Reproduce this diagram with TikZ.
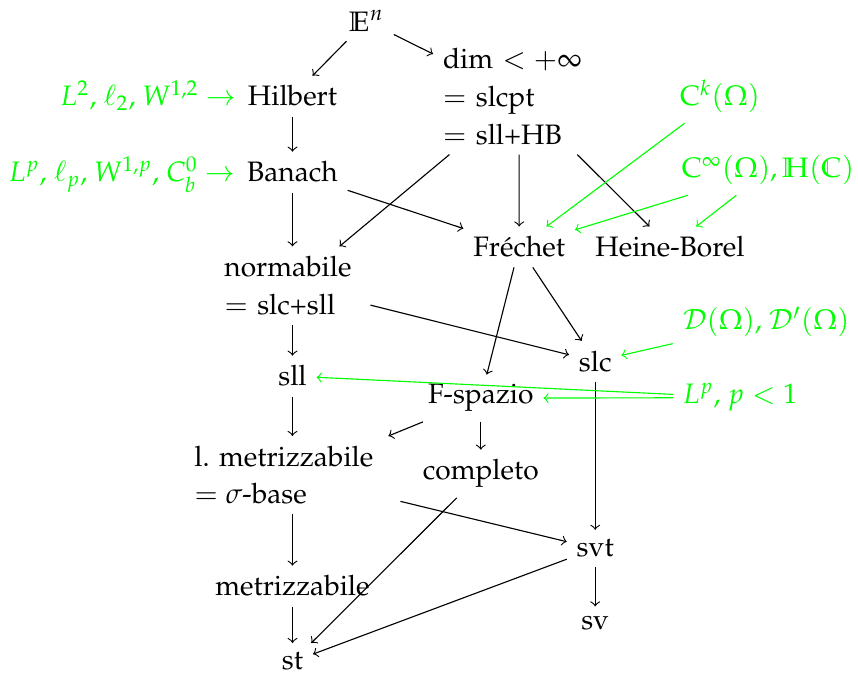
\documentclass[tikz,border=0pt]{standalone}
\usepackage[T1]{fontenc}
\usepackage{mathpazo}
\usepackage{xcolor}
\usepackage{tikz}
\usetikzlibrary{positioning}

\begin{document}
\begin{tikzpicture}[
  every node/.style={font=\fontsize{10}{13.4}\selectfont},
  multi/.style={align=left, anchor=north},
  sp/.style={anchor=base},
  ex/.style={text=green, anchor=base},
  side/.style={text=green, inner sep=0pt},
  arr/.style={->},
  garr/.style={->, green},
]
\useasboundingbox (0,0) rectangle (10.725,-8.4625);

% Row 1: top
\node[sp] (en) at (4.58,-0.39) {$\mathbb{E}^n$};
\node[multi, text width=1.9cm] (dim) at (6.4875,-0.48) {dim $<+\infty$\\$=$ slcpt\\$=$ sll+HB};

% Row 2: Hilbert, Banach + examples
\node[sp] (hil) at (3.656,-1.325) {Hilbert};
\node[sp] (ban) at (3.656,-2.275) {Banach};
\node[side, base left=0.6pt of hil] (lhil) {$L^2$, $\ell_2$, $W^{1,2}$ $\to$};
\node[side, base left=0.6pt of ban] (lban) {$L^p$, $\ell_p$, $W^{1,p}$, $C^0_b$ $\to$};
\node[ex] (ck) at (9.0,-1.325) {$\mathrm{C}^k(\Omega)$};
\node[ex] (cinf) at (9.6,-2.225) {$\mathrm{C}^\infty(\Omega), \mathbb{H}(\mathbb{C})$};

% Row 3: Frechet, Heine-Borel, normabile
\node[sp] (fre) at (6.49,-3.21) {Fr\'echet};
\node[sp] (hb) at (8.375,-3.21) {Heine-Borel};
\node[multi, text width=1.7cm] (norm) at (3.656,-3.08) {normabile\\$=$ slc+sll};

% Row 4: slc, sll, F-spazio
\node[sp] (slc) at (7.44,-4.64) {slc};
\node[sp] (sll) at (3.656,-4.825) {sll};
\node[sp] (fsp) at (6.01,-5.05) {F-spazio};
\node[ex] (dom) at (9.575,-4.125) {$\mathcal{D}(\Omega)$, $\mathcal{D}'(\Omega)$};
\node[ex] (lpl) at (9.25,-5.05) {$L^p$, $p<1$};

% Row 5: metrizzabili
\node[multi, text width=2.45cm] (metl) at (3.656,-5.45) {l.\ metrizzabile\\$=\sigma$-base};
\node[sp] (compl) at (6.01,-6.0) {completo};
\node[sp] (svt) at (7.44,-6.96) {svt};
\node[sp] (metr) at (3.656,-7.45) {metrizzabile};

% Row 6: bottom
\node[sp] (st) at (3.656,-8.375) {st};
\node[sp] (sv) at (7.44,-7.875) {sv};

% Arrows
\draw[arr] (en) -- (hil);
\draw[arr] (en) -- (dim);
\draw[arr] (hil) -- (ban);
\draw[arr] (ban) -- (norm);
\draw[arr] (ban) -- (fre);
\draw[arr] (dim) -- (norm);
\draw[arr] (dim) -- (fre);
\draw[arr] (dim) -- (hb);
\draw[arr] (norm) -- (sll);
\draw[arr] (norm) -- (slc);
\draw[arr] (fre) -- (fsp);
\draw[arr] (fre) -- (slc);
\draw[arr] (sll) -- (metl);
\draw[arr] (fsp) -- (metl);
\draw[arr] (fsp) -- (compl);
\draw[arr] (slc) -- (svt);
\draw[arr] (metl) -- (svt);
\draw[arr] (metl) -- (metr);
\draw[arr] (compl) -- (st);
\draw[arr] (svt) -- (st);
\draw[arr] (metr) -- (st);
\draw[arr] (svt) -- (sv);

% Examples
\draw[garr] (ck) -- (fre);
\draw[garr] (cinf) -- (fre);
\draw[garr] (cinf) -- (hb);
\draw[garr] (dom) -- (slc);
\draw[garr] (lpl) -- (sll);
\draw[garr] (lpl) -- (fsp);

\end{tikzpicture}
\end{document}
